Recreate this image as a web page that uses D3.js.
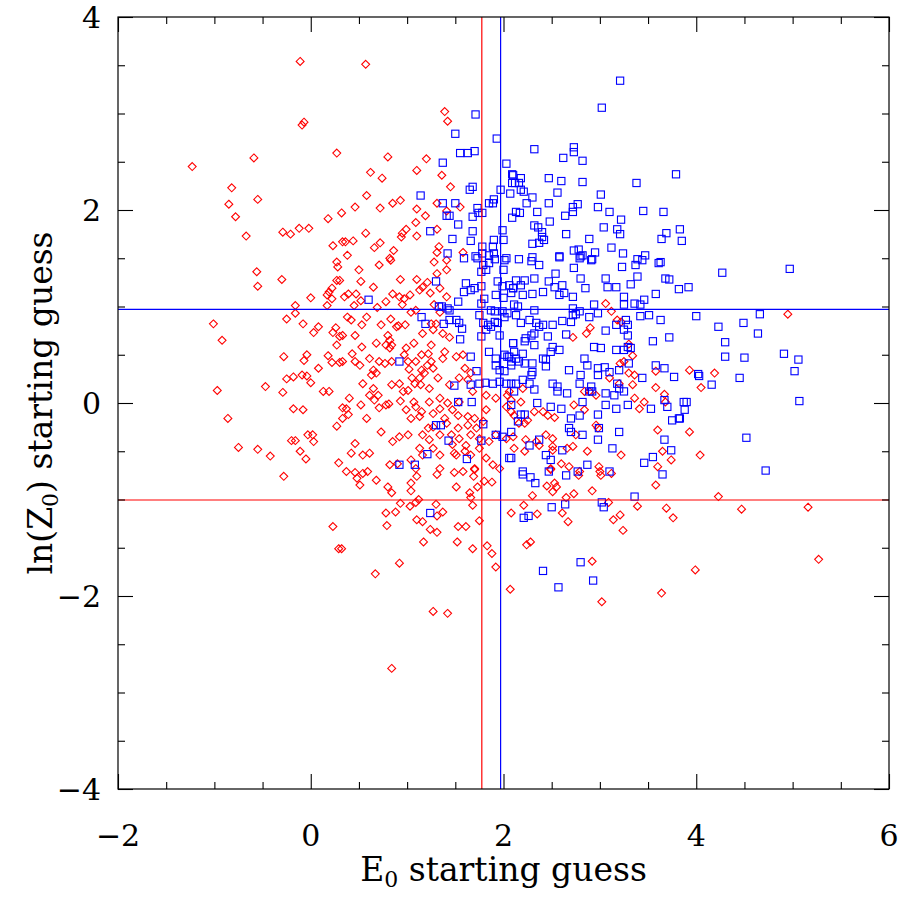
<!DOCTYPE html>
<html><head><meta charset="utf-8">
<script src="https://cdn.jsdelivr.net/npm/d3@7"></script>
<style>html,body{margin:0;padding:0;background:#fff;}</style>
</head><body>
<svg id="chart" width="902" height="898"></svg>
<script>
// ---- data ----
const xDomain = [-2, 6];
const yDomain = [-4, 4];
const xTickLabels = [-2, 0, 2, 4, 6];
const yTickLabels = [-4, -2, 0, 2, 4];
const xLabel = "E";
const yLabel = "ln(Z";
const refLinesV = [{x: 1.775, color: "red"}, {x: 1.97, color: "blue"}];
const refLinesH = [{y: 0.97, color: "blue"}, {y: -1.005, color: "red"}];

// red diamonds [E0, lnZ0]
const redPoints = [
[-1.23,2.45],[-0.11,3.54],[0.57,3.51],[-0.09,2.88],[-0.07,2.91],[0.27,2.59],[-0.59,2.54],[-0.82,2.23],[-0.55,2.11],[-0.85,2.06],
[-0.78,1.93],[-0.67,1.73],[-0.29,1.77],[-0.21,1.75],[-0.12,1.81],[-0.02,1.81],[0.18,1.91],[0.32,1.97],[0.23,1.63],[0.33,1.67],
[1.39,3.02],[1.42,2.92],[0.80,2.55],[1.20,2.53],[0.62,2.39],[0.74,2.33],[1.10,2.41],[1.36,2.36],[1.45,2.24],[0.58,2.15],
[0.46,2.03],[0.72,2.02],[0.85,2.07],[0.93,2.10],[1.10,2.01],[1.19,1.94],[1.09,1.87],[1.31,2.07],[1.55,2.03],[1.41,1.99],
[0.57,1.76],[0.36,1.67],[0.44,1.68],[0.38,1.53],[0.66,1.61],[0.72,1.66],[0.95,1.76],[0.99,1.80],[0.94,1.72],[1.10,1.73],
[1.31,1.80],[0.86,1.58],[1.33,1.62],[1.31,1.56],[1.58,1.56],[0.82,1.50],
[4.95,0.92],[3.93,0.34],[4.19,0.31],[4.05,0.16],[3.93,-0.30],[4.04,-0.54],
[4.23,-0.97],[4.47,-1.10],[5.16,-1.08],[3.99,-1.73],[5.27,-1.62],
[2.49,-0.69],[2.78,-0.75],[3.01,-0.75],[3.12,-0.73],[3.58,-0.85],[2.53,-0.83],[2.45,-0.86],[2.55,-0.87],[2.51,-0.92],[2.92,-0.91],
[2.30,-0.96],[2.65,-0.98],[2.73,-0.94],[3.09,-1.03],[2.21,-1.06],[3.39,-1.07],[3.69,-1.09],[3.76,-1.19],[2.08,-1.14],[2.35,-1.15],
[2.61,-1.14],[2.67,-1.23],[3.21,-1.16],[3.14,-1.21],[3.24,-1.32],[2.24,-1.47],[2.28,-1.44],[2.92,-1.64],[3.02,-2.06],[3.64,-1.97],[2.07,-1.93],
[0.46,-0.72],[0.54,-0.73],[0.48,-0.78],[0.51,-0.85],[0.68,-0.80],[0.80,-0.87],[0.84,-0.93],[1.10,-0.76],[1.04,-0.83],[1.04,-0.91],
[1.31,-0.74],[1.49,-0.72],[1.69,-0.76],[1.70,-0.69],[1.80,-0.81],[1.88,-0.82],[1.51,-0.87],[1.73,-0.87],[1.65,-0.93],[1.66,-0.98],
[1.68,-1.06],[0.93,-1.04],[1.03,-1.07],[1.09,-1.03],[1.12,-1.00],[1.30,-1.05],[0.78,-1.14],[0.88,-1.13],[1.37,-1.13],[1.31,-1.17],
[0.79,-1.27],[1.10,-1.21],[1.16,-1.23],[1.24,-1.31],[1.31,-1.34],[1.53,-1.28],[1.61,-1.28],[1.75,-1.22],[1.17,-1.44],[1.52,-1.44],
[1.68,-1.51],[1.83,-1.48],[1.88,-1.56],[1.92,-1.70],[0.32,-1.51],[0.92,-1.66],[0.67,-1.77],[1.27,-2.16],[1.42,-2.18],[0.84,-2.75],
[-0.28,-0.76],[0.23,-1.28],[0.29,-1.51],
[-0.56,1.36],[-0.55,1.21],[-0.30,1.28],[0.27,1.46],[0.28,1.41],[0.30,1.27],[0.27,1.27],[0.22,1.19],[0.19,1.15],[0.17,1.12],
[0.22,1.08],[0.00,1.09],[0.17,1.01],[-0.16,1.01],[-0.16,0.93],[-1.01,0.82],[-0.92,0.65],[-0.25,0.87],[-0.08,0.82],[0.08,0.79],
[0.03,0.73],[0.26,0.78],[0.23,0.73],[0.30,0.69],[0.27,0.60],[-0.28,0.48],[-0.04,0.50],[-0.07,0.44],[0.18,0.49],[0.22,0.42],
[0.30,0.42],[0.08,0.36],[-0.25,0.25],[-0.18,0.27],[-0.09,0.29],[-0.04,0.28],[0.00,0.21],[-0.97,0.13],[-0.47,0.17],[-0.29,0.11],
[0.13,0.12],[0.19,0.12],[-0.18,-0.06],[-0.08,-0.07],[-0.86,-0.16],[0.27,-0.24],[0.33,-0.05],[0.33,-0.16],[-0.20,-0.39],[-0.16,-0.39],
[-0.11,-0.50],[-0.03,-0.33],[0.02,-0.33],[0.03,-0.40],[-0.05,-0.58],[-0.75,-0.46],[-0.55,-0.48],[-0.42,-0.55],[0.29,-0.62],
[0.83,1.48],[1.28,1.46],[1.41,1.48],[0.50,1.38],[0.71,1.43],[0.52,1.26],[0.93,1.28],[1.10,1.28],[1.31,1.34],[1.41,1.38],
[1.21,1.25],[1.16,1.20],[1.13,1.17],[0.97,1.08],[0.92,1.10],[1.03,1.12],[0.95,1.02],[1.24,1.14],[1.34,1.19],[1.41,1.10],
[0.65,1.20],[0.39,1.13],[0.35,1.10],[0.47,1.13],[0.52,1.06],[0.78,1.05],[0.85,1.13],[1.04,0.94],[1.09,0.96],[1.28,1.02],
[1.34,0.94],[0.45,1.01],[0.69,0.99],[0.38,0.89],[0.42,0.86],[0.58,0.89],[0.83,0.87],[0.53,0.81],[0.73,0.81],[0.89,0.79],
[0.91,0.80],[0.98,0.81],[1.25,0.82],[1.30,0.82],[1.27,0.76],[1.37,0.72],[1.44,0.68],[1.16,0.72],[0.33,0.70],[0.46,0.70],
[0.68,0.62],[0.80,0.70],[0.82,0.65],[0.84,0.60],[0.82,0.57],[0.78,0.60],[1.07,0.62],[0.99,0.57],[0.97,0.50],[1.15,0.50],
[1.22,0.51],[1.25,0.60],[1.39,0.53],[1.37,0.46],[1.51,0.48],[1.58,0.50],[0.43,0.51],[0.53,0.58],[0.46,0.43],[0.51,0.39],
[0.33,0.43],[0.61,0.46],[0.71,0.43],[0.77,0.41],[0.84,0.43],[1.01,0.43],[1.09,0.43],[1.25,0.43],[1.21,0.39],[1.27,0.36],
[1.18,0.31],[1.15,0.34],[1.02,0.35],[0.68,0.31],[0.63,0.29],[0.65,0.34],[0.54,0.20],[0.65,0.15],[0.61,0.08],[0.70,0.08],
[0.84,0.19],[0.92,0.20],[0.96,0.12],[1.01,0.13],[1.05,0.26],[1.08,0.20],[1.13,0.26],[1.14,0.19],[1.23,0.15],[1.32,0.26],
[1.44,0.19],[1.54,0.26],[1.63,0.24],[0.40,0.05],[0.52,-0.02],[0.66,0.03],[0.78,-0.02],[0.93,0.02],[1.07,0.01],[1.09,-0.04],
[1.23,0.01],[1.34,0.05],[1.42,0.00],[1.27,-0.11],[1.54,0.01],[1.68,0.12],[1.60,0.36],[1.66,0.31],[1.82,0.08],[1.92,0.05],
[2.04,0.08],[2.08,0.03],[0.37,-0.06],[0.39,-0.12],[0.58,-0.16],[0.71,-0.05],[0.81,-0.01],[0.99,-0.07],[1.15,-0.09],[1.04,-0.16],
[1.13,-0.14],[1.34,-0.06],[1.39,-0.16],[1.47,-0.07],[1.53,-0.13],[1.63,-0.14],[1.70,-0.16],[1.82,-0.07],[2.03,-0.04],[1.22,-0.26],
[1.27,-0.25],[1.41,-0.21],[1.53,-0.26],[1.63,-0.23],[1.72,-0.26],[1.79,-0.19],[0.73,-0.30],[0.92,-0.35],[0.85,-0.40],[1.01,-0.33],
[1.16,-0.33],[1.23,-0.38],[1.34,-0.33],[1.46,-0.33],[1.47,-0.43],[1.54,-0.37],[1.61,-0.44],[1.66,-0.33],[1.75,-0.37],[1.85,-0.40],
[1.92,-0.33],[2.03,-0.37],[0.46,-0.42],[0.42,-0.52],[0.54,-0.54],[0.61,-0.52],[0.82,-0.64],[0.90,-0.63],[1.04,-0.59],[1.13,-0.47],
[1.16,-0.54],[1.27,-0.47],[1.34,-0.54],[1.49,-0.52],[1.51,-0.54],[1.60,-0.50],[1.66,-0.54],[1.75,-0.47],[1.82,-0.57],[1.89,-0.64],
[1.96,-0.68],[1.70,-0.68],[1.58,-0.71],[1.34,-0.68],[1.09,-0.68],[0.37,-0.71],[0.59,-0.71],
[3.06,1.03],[3.12,0.95],[3.18,0.86],[3.22,0.84],[2.90,0.78],[2.72,0.68],[2.86,0.72],[3.30,0.61],[3.34,0.49],[3.25,0.43],
[3.21,0.41],[3.30,0.31],[3.10,0.26],[3.36,0.29],[3.34,0.19],[3.58,0.33],[3.58,0.16],[3.67,0.09],[3.68,0.01],[3.46,0.01],
[3.41,-0.06],[3.36,0.05],[3.20,0.20],[2.96,0.08],[2.89,0.12],[2.84,0.12],[2.73,-0.02],[2.84,-0.07],[2.53,-0.15],[2.46,-0.13],
[2.41,-0.09],[2.32,-0.09],[2.25,-0.18],[2.22,-0.21],[2.16,-0.21],[2.11,-0.13],[2.08,-0.09],[2.18,0.01],[2.06,0.12],[2.20,0.15],
[2.96,-0.23],[2.98,-0.26],[2.75,-0.33],[2.44,-0.33],[2.51,-0.37],[2.51,-0.45],[2.37,-0.44],[2.34,-0.40],[2.23,-0.38],[2.22,-0.50],
[2.10,-0.35],[2.11,-0.47],[2.51,-0.49],[2.49,-0.68],[2.60,-0.63],[2.68,-0.66],[2.66,-0.47],[2.72,-0.45],[2.87,-0.50],[2.99,-0.66],
[2.79,-0.71],[3.22,-0.54],[3.60,-0.28],[3.65,-0.50],[3.74,-0.59],[3.60,-0.66],[3.00,-0.71]
];

// blue squares [E0, lnZ0]
const bluePoints = [
[1.71,2.99],[1.50,2.79],[1.93,2.74],[1.55,2.59],[1.63,2.59],[1.70,2.61],[1.37,2.49],[2.03,2.48],[2.09,2.37],[2.09,2.28],
[1.68,2.24],[1.65,2.21],[1.97,2.21],[2.07,2.17],[1.14,2.15],[1.37,2.07],[1.50,2.07],[1.73,2.02],[1.74,1.97],[1.78,1.97],
[1.85,2.07],[1.90,2.11],[1.89,2.07],[1.41,1.94],[1.44,1.94],[1.68,1.93],[1.53,1.85],[2.09,1.92],[1.24,1.78],[1.68,1.78],
[1.99,1.79],[2.00,1.69],[1.47,1.70],[1.66,1.68],[1.90,1.69],[1.89,1.62],[1.78,1.62],[1.78,1.55],[1.42,1.55],[1.90,1.55],
[1.85,1.53],[1.71,1.52],[1.59,1.50],[2.03,1.50],
[3.21,3.34],[3.02,3.06],[2.32,2.63],[2.73,2.65],[2.73,2.60],[2.62,2.54],[2.82,2.51],[3.79,2.37],[2.10,2.36],[2.18,2.33],
[2.12,2.28],[2.16,2.28],[2.47,2.33],[2.60,2.30],[2.82,2.29],[3.38,2.28],[2.18,2.21],[2.21,2.19],[2.30,2.13],[2.56,2.18],
[3.01,2.16],[2.24,2.07],[2.47,2.07],[2.72,2.03],[2.77,2.06],[2.98,2.03],[2.13,1.98],[2.17,1.97],[2.35,1.98],[2.72,1.98],
[2.64,1.94],[3.10,1.98],[3.45,1.99],[3.66,1.98],[3.22,1.90],[2.48,1.88],[2.32,1.84],[2.36,1.82],[3.04,1.82],[3.18,1.80],
[3.21,1.75],[3.83,1.80],[2.40,1.77],[2.40,1.72],[2.42,1.69],[2.65,1.75],[2.89,1.70],[3.69,1.76],[3.64,1.70],[3.85,1.68],
[2.30,1.65],[2.37,1.66],[3.12,1.61],[2.73,1.58],[2.78,1.59],[2.80,1.52],[2.82,1.53],[2.95,1.56],[3.24,1.55],[3.47,1.53],
[2.30,1.51],[2.58,1.51],[2.92,1.49],[3.39,1.49],[3.63,1.46],
[4.27,1.35],[4.97,1.39],[3.92,1.20],[3.82,1.18],[4.00,0.90],[4.66,0.92],[4.23,0.79],[4.49,0.83],[4.64,0.72],[4.30,0.63],
[4.30,0.48],[4.50,0.47],[4.91,0.51],[5.06,0.45],[5.02,0.33],[4.02,0.30],[4.03,0.28],[4.16,0.19],[4.45,0.26],[5.07,0.02],
[3.90,0.01],[3.88,-0.07],[3.83,-0.16],[4.52,-0.36],[4.72,-0.70],
[2.20,-0.74],[2.28,-0.77],[2.33,-0.83],[2.65,-0.75],[3.65,-0.74],[3.36,-0.97],[3.02,-1.03],[3.04,-1.08],[2.64,-1.05],[2.50,-1.08],
[2.21,-1.19],[2.26,-1.17],[2.80,-1.65],[2.41,-1.74],[2.93,-1.84],[2.57,-1.91],[1.24,-1.14],
[0.60,1.07],[0.92,0.43],[1.30,1.26],[1.61,1.24],[1.59,1.15],[1.66,1.17],[1.70,1.19],[1.77,1.21],[1.33,1.00],[1.36,1.00],
[1.42,0.98],[1.44,0.96],[1.53,1.05],[1.15,0.89],[1.19,0.82],[1.38,0.82],[1.44,0.86],[1.51,0.86],[1.54,0.83],[1.57,0.77],
[1.55,0.66],[1.66,0.48],[1.72,0.33],[1.49,0.18],[1.66,0.19],[1.75,0.20],[1.81,0.21],[1.53,0.01],[1.67,0.01],[1.30,-0.23],
[1.35,-0.23],[1.43,-0.39],[1.21,-0.53],[1.62,-0.58],[0.92,-0.64],[1.08,-0.64],[1.79,-0.22],[1.77,-0.39],[1.92,-0.33],[1.99,-0.35],
[2.06,-0.57],[1.73,1.50],[1.79,1.43],[1.82,1.38],[1.85,1.45],[1.77,1.36],[2.01,1.48],[2.00,1.38],[1.91,1.49],[1.94,1.26],
[1.99,1.21],[2.06,1.22],[2.10,1.19],[1.92,1.12],[2.00,1.09],[1.80,1.08],[1.77,1.03],[1.87,0.96],[1.91,0.95],[1.99,0.95],
[2.01,0.89],[2.04,0.93],[1.75,0.91],[1.79,0.83],[1.84,0.81],[1.87,0.79],[1.91,0.84],[1.94,0.83],[1.96,0.70],[1.82,0.76],
[1.77,0.69],[1.85,0.53],[1.92,0.46],[2.01,0.50],[2.04,0.48],[2.08,0.43],[1.92,0.39],[1.96,0.34],[2.01,0.33],[1.89,0.20],
[1.96,0.22],[2.03,0.20],[2.08,0.20],[2.11,0.12],[2.08,-0.02],[2.10,0.62],
[2.16,1.49],[2.29,1.47],[2.37,1.43],[2.58,1.52],[2.79,1.50],[2.91,1.48],[2.73,1.40],[2.54,1.34],[2.47,1.26],[2.32,1.29],
[2.22,1.27],[2.13,1.27],[2.10,1.19],[2.18,1.22],[2.08,1.14],[2.20,1.12],[2.30,1.13],[2.41,1.15],[2.53,1.20],[2.61,1.22],
[2.63,1.14],[2.58,1.12],[2.72,1.10],[2.80,1.29],[2.85,1.19],[3.06,1.29],[3.08,1.20],[3.17,1.20],[3.23,1.41],[3.37,1.43],
[3.44,1.48],[3.61,1.45],[3.68,1.29],[3.72,1.28],[3.32,1.23],[3.39,1.31],[3.58,1.13],[3.46,1.07],[3.25,1.10],[3.25,1.02],
[3.36,1.03],[3.42,1.02],[3.51,0.91],[3.42,0.90],[3.63,0.86],[3.72,0.68],[3.55,0.64],[3.27,0.86],[3.29,0.81],[3.25,0.76],
[3.29,0.70],[3.17,0.81],[3.06,0.75],[2.98,0.93],[2.94,1.02],[2.89,0.89],[2.79,0.95],[2.72,0.98],[2.72,0.91],[2.75,0.92],
[2.70,0.84],[2.61,0.85],[2.65,0.71],[2.46,0.69],[2.51,0.81],[2.41,0.81],[2.37,0.79],[2.34,0.83],[2.27,0.86],[2.18,0.83],
[2.13,0.91],[2.11,1.02],[2.15,1.00],[2.32,0.96],[2.23,0.67],[2.29,0.70],[2.32,0.72],[2.22,0.64],[2.32,0.60],[2.10,0.62],
[2.11,0.53],[2.06,0.48],[2.13,0.46],[2.20,0.51],[2.08,0.39],[2.16,0.43],[2.22,0.41],[2.30,0.41],[2.41,0.46],[2.44,0.38],
[2.44,0.45],[2.49,0.53],[2.51,0.58],[2.58,0.55],[2.68,0.34],[2.80,0.29],[2.84,0.46],[2.87,0.39],[2.94,0.58],[3.01,0.57],
[2.98,0.36],[3.05,0.37],[2.98,0.29],[3.10,0.32],[3.17,0.55],[3.25,0.55],[3.29,0.58],[3.32,0.57],[3.30,0.41],[3.20,0.34],
[3.18,0.20],[3.25,0.12],[3.20,0.15],[3.15,0.08],[3.06,0.10],[2.91,0.17],[2.92,0.12],[2.79,0.20],[2.66,0.10],[2.56,0.17],
[2.56,0.12],[2.51,0.20],[2.32,0.14],[2.30,0.32],[2.29,0.29],[2.27,0.20],[2.20,0.24],[2.13,0.20],[2.35,0.00],[2.49,-0.04],
[2.60,-0.06],[2.70,-0.16],[2.79,-0.13],[2.82,0.01],[2.89,0.12],[2.98,-0.12],[3.06,-0.02],[3.17,-0.06],[3.29,-0.02],[3.44,0.26],
[3.58,0.39],[3.67,0.36],[3.77,0.27],[3.53,-0.06],[3.70,-0.04],[3.67,0.03],[3.75,-0.18],[3.82,-0.16],[3.87,0.01],[3.67,-0.38],
[3.74,-0.49],[3.55,-0.56],[3.46,-0.62],[2.44,-0.54],[2.49,-0.59],[2.37,-0.38],[2.27,-0.44],[2.22,-0.12],[2.18,-0.12],[2.15,-0.19],
[2.08,-0.30],[2.68,-0.26],[2.70,-0.30],[2.82,-0.33],[2.99,-0.26],[2.98,-0.38],[3.20,-0.30],[3.13,-0.47],[2.61,-0.49],[2.87,-0.64],
[2.08,-0.57],[2.20,-0.71],[2.77,-0.71],[2.47,-0.71],[3.10,-0.71]
];

// ---- layout ----
const W = 902, H = 898;
const m = {left: 118, right: 13, top: 17, bottom: 109};
const svg = d3.select("#chart");
const x = d3.scaleLinear().domain(xDomain).range([m.left, W - m.right]);
const y = d3.scaleLinear().domain(yDomain).range([H - m.bottom, m.top]);
const font = "'DejaVu Serif','Liberation Serif',serif";

// points
const g = svg.append("g");
g.selectAll("path.red").data(redPoints).join("path")
  .attr("class", "red")
  .attr("d", d3.symbol().type(d3.symbolDiamond2 || d3.symbolDiamond).size(40))
  .attr("transform", d => `translate(${x(d[0])},${y(d[1])})`)
  .attr("fill", "none").attr("stroke", "#ff0000").attr("stroke-width", 1.1);
g.selectAll("rect.blue").data(bluePoints).join("rect")
  .attr("class", "blue")
  .attr("x", d => x(d[0]) - 3.6).attr("y", d => y(d[1]) - 3.6)
  .attr("width", 7.2).attr("height", 7.2)
  .attr("fill", "none").attr("stroke", "#0000ff").attr("stroke-width", 1.1);

// reference lines
refLinesV.forEach(l => svg.append("line")
  .attr("x1", x(l.x)).attr("x2", x(l.x)).attr("y1", y(yDomain[0])).attr("y2", y(yDomain[1]))
  .attr("stroke", l.color === "red" ? "#ff0000" : "#0000ff").attr("stroke-width", 1.2));
refLinesH.forEach(l => svg.append("line")
  .attr("y1", y(l.y)).attr("y2", y(l.y)).attr("x1", x(xDomain[0])).attr("x2", x(xDomain[1]))
  .attr("stroke", l.color === "red" ? "#ff0000" : "#0000ff").attr("stroke-width", 1.2));

// axes (ticks inward on all four sides)
const minorX = d3.range(xDomain[0], xDomain[1] + 0.001, 0.5);
const minorY = d3.range(yDomain[0], yDomain[1] + 0.001, 0.5);
const isMajor = v => Math.abs(v / 2 - Math.round(v / 2)) < 1e-6;
const tickLen = v => isMajor(v) ? 15 : 7;
const fmt = v => v < 0 ? "\u2212" + Math.abs(v) : String(v);

const innerH = y(yDomain[0]) - y(yDomain[1]);
const innerW = x(xDomain[1]) - x(xDomain[0]);
const axB = svg.append("g").attr("transform", `translate(0,${y(yDomain[0])})`)
  .call(d3.axisBottom(x).tickValues(minorX).tickSizeOuter(0).tickFormat(""));
axB.selectAll(".tick line").attr("y2", d => -tickLen(d));
const axT = svg.append("g").attr("transform", `translate(0,${y(yDomain[1])})`)
  .call(d3.axisTop(x).tickValues(minorX).tickSizeOuter(0).tickFormat(""));
axT.selectAll(".tick line").attr("y2", d => tickLen(d));
const axL = svg.append("g").attr("transform", `translate(${x(xDomain[0])},0)`)
  .call(d3.axisLeft(y).tickValues(minorY).tickSizeOuter(0).tickFormat(""));
axL.selectAll(".tick line").attr("x2", d => tickLen(d));
const axR = svg.append("g").attr("transform", `translate(${x(xDomain[1])},0)`)
  .call(d3.axisRight(y).tickValues(minorY).tickSizeOuter(0).tickFormat(""));
axR.selectAll(".tick line").attr("x2", d => -tickLen(d));
svg.selectAll(".domain").remove();
svg.selectAll(".tick line").attr("stroke", "#000").attr("stroke-width", 1.1);
svg.append("rect").attr("x", x(xDomain[0])).attr("y", y(yDomain[1]))
  .attr("width", innerW).attr("height", innerH)
  .attr("fill", "none").attr("stroke", "#000").attr("stroke-width", 1.2);

// tick labels
svg.append("g").selectAll("text").data(xTickLabels).join("text")
  .attr("x", d => x(d)).attr("y", y(yDomain[0]) + 57)
  .attr("text-anchor", "middle").attr("font-family", font).attr("font-size", 30)
  .text(fmt);
svg.append("g").selectAll("text").data(yTickLabels).join("text")
  .attr("x", x(xDomain[0]) - 17).attr("y", d => y(d) + 11)
  .attr("text-anchor", "end").attr("font-family", font).attr("font-size", 30)
  .text(fmt);

// axis titles
const xt = svg.append("text").attr("x", x(2)).attr("y", 881)
  .attr("text-anchor", "middle").attr("font-family", font).attr("font-size", 33);
xt.append("tspan").text(xLabel);
xt.append("tspan").attr("font-size", 22).attr("dy", 6).text("0");
xt.append("tspan").attr("dy", -6).text(" starting guess");

const yt = svg.append("text").attr("transform", `translate(52,${y(0)}) rotate(-90)`)
  .attr("text-anchor", "middle").attr("font-family", font).attr("font-size", 33);
yt.append("tspan").text(yLabel);
yt.append("tspan").attr("font-size", 22).attr("dy", 6).text("0");
yt.append("tspan").attr("dy", -6).text(") starting guess");
</script>
</body></html>
